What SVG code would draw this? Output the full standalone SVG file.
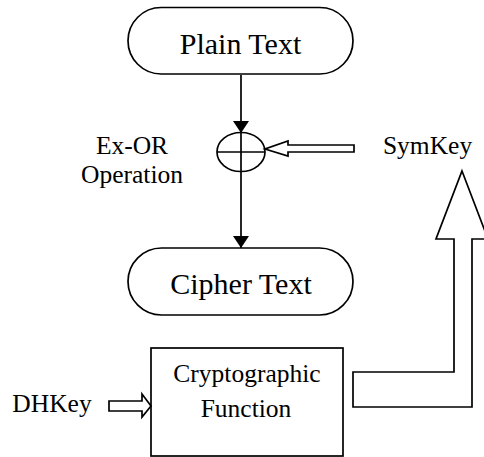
<svg xmlns="http://www.w3.org/2000/svg" width="484" height="457" viewBox="0 0 484 457">
<defs>
<style>
.s{fill:none;stroke:#000;stroke-width:1.7}
.h{fill:#fff;stroke:#000;stroke-width:1.7;stroke-linejoin:miter}
.t{font-family:"Liberation Serif","Times New Roman",serif;fill:#000;text-anchor:middle}
.big{font-size:30px}
.sm{font-size:25.5px}
</style>
<marker id="ah" markerWidth="12" markerHeight="16" refX="12" refY="8" orient="auto" markerUnits="userSpaceOnUse">
<path d="M0,0 L12,8 L0,16 Z" fill="#000"/>
</marker>
</defs>
<rect width="484" height="457" fill="#fff"/>
<g id="connectors">
<line class="s" x1="241" y1="75" x2="241" y2="133" marker-end="url(#ah)"/>
<line class="s" x1="241" y1="171" x2="241" y2="248" marker-end="url(#ah)"/>
<polygon class="h" points="354,145 288,145 288,141 265,149 288,156 288,152 354,152"/>
<polygon class="h" points="109,401 142,401 142,394 151,406 142,417 142,411 109,411"/>
<polygon class="h" points="462,171 488,239 472,239 472,407 353,407 353,372 454,372 454,239 436,239"/>
</g>
<g id="plain-text">
<rect class="s" x="128" y="7.5" width="225" height="66.5" rx="33.25"/>
<text class="t big" x="240.5" y="53.5">Plain Text</text>
</g>
<g id="exor">
<ellipse class="s" cx="241" cy="152" rx="24" ry="19.5"/>
<line class="s" x1="217" y1="152" x2="265" y2="152"/>
<line class="s" x1="241" y1="132.5" x2="241" y2="171.5"/>
<text class="t sm" x="132" y="154">Ex-OR</text>
<text class="t sm" x="132" y="183">Operation</text>
</g>
<g id="symkey">
<text class="t sm" x="427.5" y="154">SymKey</text>
</g>
<g id="cipher-text">
<rect class="s" x="128" y="248" width="225" height="67" rx="33.5"/>
<text class="t big" x="241" y="294">Cipher Text</text>
</g>
<g id="crypto">
<rect class="s" x="151" y="348" width="192" height="108"/>
<text class="t sm" x="247" y="382">Cryptographic</text>
<text class="t sm" x="246" y="417">Function</text>
</g>
<g id="dhkey">
<text class="t sm" x="52" y="412">DHKey</text>
</g>
</svg>
